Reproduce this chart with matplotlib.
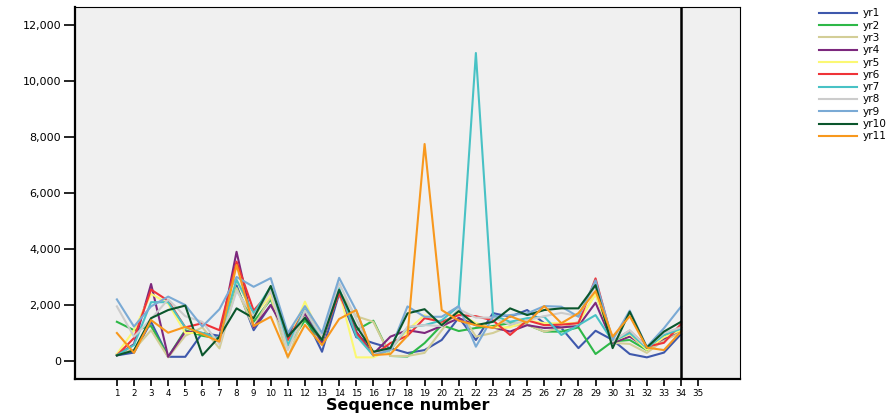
import numpy as np
import matplotlib
matplotlib.use("Agg")
import matplotlib.pyplot as plt
from matplotlib.ticker import FuncFormatter

plt.rcParams["font.family"] = ["DejaVu Sans"]

# ── datos ───────────────────────────────────────────────────────
seq = np.arange(1, 35)

yr1 = [200, 300, 1400, 150, 150, 1000, 900, 2700, 1100, 2000, 1000, 1600, 330, 2400, 850, 640, 460,
       285, 390, 750, 1550, 750, 1710, 1580, 1820, 1350, 1180, 460, 1080, 750, 250, 130, 300, 960]
yr2 = [1400, 1100, 1250, 150, 1100, 900, 800, 2600, 1400, 2200, 550, 1450, 700, 2500, 1100, 1440, 180,
       160, 640, 1280, 1070, 1180, 1250, 1350, 1300, 1050, 1050, 1200, 250, 700, 750, 390, 870, 1200]
yr3 = [250, 400, 1100, 130, 900, 1200, 450, 2600, 1200, 2300, 110, 1700, 650, 2500, 1600, 1400, 180,
       180, 290, 1100, 1850, 870, 1000, 1250, 1300, 1050, 1180, 1400, 2400, 650, 610, 290, 750, 1000]
yr4 = [200, 600, 2750, 150, 1050, 1000, 800, 3900, 1200, 2000, 870, 1700, 650, 2500, 1050, 250, 870,
       1100, 1000, 1250, 1530, 1280, 1200, 1050, 1280, 1180, 1200, 1250, 2080, 650, 870, 480, 800, 1100]
yr5 = [250, 1100, 2400, 2050, 1000, 1000, 750, 2900, 1600, 2350, 640, 2120, 750, 2500, 130, 130, 400,
       1100, 1640, 1350, 1700, 1350, 1200, 1200, 1450, 1350, 1350, 1350, 2400, 700, 960, 400, 850, 1100]
yr6 = [200, 820, 2550, 2150, 1200, 1350, 1100, 3550, 1800, 2500, 750, 1820, 800, 2420, 1000, 200, 640,
       900, 1530, 1400, 1640, 1600, 1450, 930, 1450, 1280, 1300, 1350, 2950, 700, 1080, 510, 650, 1320]
yr7 = [200, 570, 2100, 2100, 1200, 1000, 800, 2900, 1700, 2650, 570, 1850, 750, 2600, 900, 200, 390,
       1200, 1280, 1450, 1960, 11000, 1640, 1400, 1530, 1580, 930, 1280, 1640, 700, 1000, 460, 930, 1150]
yr8 = [1950, 870, 1500, 2200, 1600, 1400, 600, 2500, 1600, 2500, 390, 1800, 870, 2780, 1500, 250, 400,
       1220, 1280, 1250, 1850, 1550, 1550, 1300, 1450, 1600, 1720, 1600, 2700, 700, 1100, 500, 1000, 1200]
yr9 = [2200, 1230, 1950, 2300, 2000, 1230, 1850, 3000, 2650, 2960, 1000, 1960, 1000, 2970, 1800, 200, 400,
       1950, 1580, 1580, 1960, 510, 1580, 1640, 1700, 1960, 1940, 1580, 2880, 750, 1800, 500, 1170, 1940]
yr10 = [200, 380, 1530, 1820, 1980, 200, 870, 1880, 1530, 2680, 870, 1540, 750, 2540, 1250, 330, 460,
        1700, 1850, 1280, 1780, 1280, 1400, 1880, 1640, 1820, 1880, 1880, 2710, 460, 1760, 480, 1050, 1400]
yr11 = [1000, 290, 1460, 1010, 1220, 960, 690, 3430, 1250, 1580, 150, 1290, 570, 1500, 1820, 210, 250,
        900, 7750, 1820, 1440, 1280, 1180, 1600, 1370, 1960, 1350, 1710, 2500, 870, 1600, 480, 390, 1050]

series = [yr1, yr2, yr3, yr4, yr5, yr6, yr7, yr8, yr9, yr10, yr11]
labels = ["yr1", "yr2", "yr3", "yr4", "yr5", "yr6", "yr7", "yr8", "yr9", "yr10", "yr11"]
colores = ["#3e58ac", "#2eb848", "#d3ce97", "#7c287d", "#fbf873", "#ef3338",
           "#48c2c5", "#cccccc", "#7aaad5", "#0a562c", "#f8981d"]
xticks = np.arange(1, 36)

# ── figura ──────────────────────────────────────────────────────
fig = plt.figure(figsize=(8.94, 4.16), dpi=100)
ax = fig.add_axes([75 / 894, 1 - 379 / 416, 665 / 894, 372 / 416])
ax.set_facecolor("#f0f0f0")

handles = []
for vals, lab, col in zip(series, labels, colores):
    h, = ax.plot(seq, vals, color=col, lw=1.5, label=lab)
    handles.append(h)

ax.axvline(34, color="black", lw=1.8)

ax.set_xlim(-1.45, 37.45)
ax.set_ylim(-643, 12643)
ax.set_xticks(xticks)
ax.set_xticklabels([str(t) for t in xticks], fontsize=6.3)
ax.set_yticks(np.arange(0, 12001, 2000))
ax.yaxis.set_major_formatter(FuncFormatter(lambda v, p: f"{int(v):,}"))
ax.tick_params(axis="y", labelsize=8, length=8, width=1.2, pad=2)
ax.tick_params(axis="x", length=5, width=1.2, pad=2)

for s in ("left", "bottom"):
    ax.spines[s].set_linewidth(1.6)
for s in ("top", "right"):
    ax.spines[s].set_linewidth(0.8)

ax.set_xlabel("Sequence number", fontsize=11.5, fontweight="bold", labelpad=0)

fig.legend(handles=handles, labels=labels, loc="upper left",
           bbox_to_anchor=(815 / 894, 1 - 4 / 416), frameon=False,
           fontsize=7.6, handlelength=3.6, labelspacing=0.22,
           handletextpad=0.5, borderaxespad=0, handleheight=0.5)

fig.savefig("out.png", dpi=100)
